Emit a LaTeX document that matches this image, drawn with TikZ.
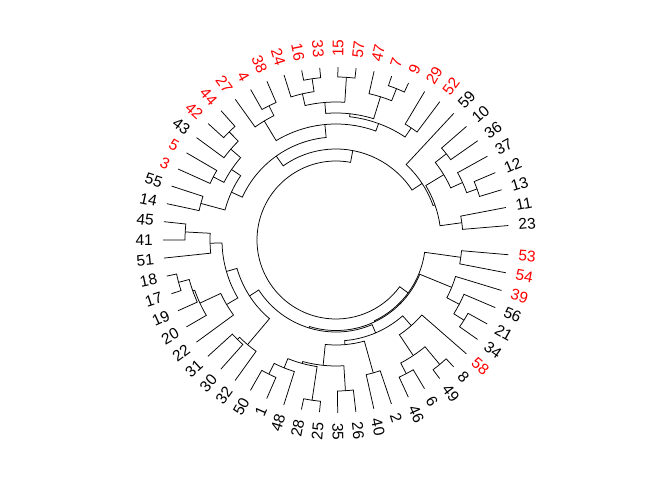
\documentclass[tikz,border=0pt]{standalone}
\usepackage{fontspec}
\setmainfont{Liberation Sans}
\tikzset{
    branch/.style={line width=0.75pt, black},
    lbl/.style={font=\fontsize{15.5}{18}\selectfont, inner sep=2pt},
}
\newcommand\tipr{173pt}
\newcommand\labr{181pt}
% leaf: name, position round the circle, colour, text
\newcommand\leaf[4]{%
  \pgfmathsetmacro\lfang{4.8+6.04*#2}%
  \expandafter\xdef\csname ang@#1\endcsname{\lfang}%
  \coordinate (#1) at (\lfang:\tipr);
  \pgfmathtruncatemacro\lfside{(\lfang>90 && \lfang<270) ? 1 : 0}%
  \ifnum\lfside=1
    \pgfmathsetmacro\lfrot{\lfang-180}%
    \node[lbl, text=#3, anchor=east, rotate=\lfrot] (lab#1) at (\lfang:\labr) {#4};
  \else
    \node[lbl, text=#3, anchor=west, rotate=\lfang] (lab#1) at (\lfang:\labr) {#4};
  \fi
}
% merge: name, first child, second child, radius of the join
\newcommand\merge[4]{%
  \edef\angA{\csname ang@#2\endcsname}%
  \edef\angB{\csname ang@#3\endcsname}%
  \pgfmathsetmacro\angM{(\angA+\angB)/2}%
  \expandafter\xdef\csname ang@#1\endcsname{\angM}%
  \coordinate (#1) at (\angM:#4pt);
  \draw[branch] (#2) -- (\angA:#4pt) arc[start angle=\angA, end angle=\angB, radius=#4pt] -- (#3);
}

\begin{document}
\begin{tikzpicture}
    \useasboundingbox (-336pt,-240pt) rectangle (336pt,240pt);

    \leaf{t23}{0}{black}{23}
    \leaf{t11}{1}{black}{11}
    \leaf{t13}{2}{black}{13}
    \leaf{t12}{3}{black}{12}
    \leaf{t37}{4}{black}{37}
    \leaf{t36}{5}{black}{36}
    \leaf{t10}{6}{black}{10}
    \leaf{t59}{7}{black}{59}
    \leaf{t52}{8}{red}{52}
    \leaf{t29}{9}{red}{29}
    \leaf{t9}{10}{red}{9}
    \leaf{t7}{11}{red}{7}
    \leaf{t47}{12}{red}{47}
    \leaf{t57}{13}{red}{57}
    \leaf{t15}{14}{red}{15}
    \leaf{t33}{15}{red}{33}
    \leaf{t16}{16}{red}{16}
    \leaf{t24}{17}{red}{24}
    \leaf{t38}{18}{red}{38}
    \leaf{t4}{19}{red}{4}
    \leaf{t27}{20}{red}{27}
    \leaf{t44}{21}{red}{44}
    \leaf{t42}{22}{red}{42}
    \leaf{t43}{23}{black}{43}
    \leaf{t5}{24}{red}{5}
    \leaf{t3}{25}{red}{3}
    \leaf{t55}{26}{black}{55}
    \leaf{t14}{27}{black}{14}
    \leaf{t45}{28}{black}{45}
    \leaf{t41}{29}{black}{41}
    \leaf{t51}{30}{black}{51}
    \leaf{t18}{31}{black}{18}
    \leaf{t17}{32}{black}{17}
    \leaf{t19}{33}{black}{19}
    \leaf{t20}{34}{black}{20}
    \leaf{t22}{35}{black}{22}
    \leaf{t31}{36}{black}{31}
    \leaf{t30}{37}{black}{30}
    \leaf{t32}{38}{black}{32}
    \leaf{t50}{39}{black}{50}
    \leaf{t1}{40}{black}{1}
    \leaf{t48}{41}{black}{48}
    \leaf{t28}{42}{black}{28}
    \leaf{t25}{43}{black}{25}
    \leaf{t35}{44}{black}{35}
    \leaf{t26}{45}{black}{26}
    \leaf{t40}{46}{black}{40}
    \leaf{t2}{47}{black}{2}
    \leaf{t46}{48}{black}{46}
    \leaf{t6}{49}{black}{6}
    \leaf{t49}{50}{black}{49}
    \leaf{t8}{51}{black}{8}
    \leaf{t58}{52}{red}{58}
    \leaf{t34}{53}{black}{34}
    \leaf{t21}{54}{black}{21}
    \leaf{t56}{55}{black}{56}
    \leaf{t39}{56}{red}{39}
    \leaf{t54}{57}{red}{54}
    \leaf{t53}{58}{red}{53}

    % right, upper
    \merge{a1}{t23}{t11}{127}
    \merge{a2}{t13}{t12}{150}
    \merge{a3}{a2}{t37}{139}
    \merge{a4}{t36}{t10}{140}
    \merge{a5}{a3}{a4}{126}
    \merge{a6}{a1}{a5}{105}
    \merge{a7}{a6}{t59}{103}
    % top
    \merge{b1}{t52}{t29}{135}
    \merge{b2}{t9}{t7}{163}
    \merge{b3}{b2}{t47}{150}
    \merge{b4}{t57}{t15}{163}
    \merge{b5}{t33}{t16}{163}
    \merge{b6}{b5}{t24}{150}
    \merge{b7}{b4}{b6}{138}
    \merge{b8}{b3}{b7}{127}
    \merge{b9}{b1}{b8}{124}
    \merge{b10}{t38}{t4}{150}
    \merge{b11}{b10}{t27}{139}
    \merge{b12}{b9}{b11}{116}
    % upper left
    \merge{d1}{t44}{t42}{152}
    \merge{d2}{d1}{t43}{139}
    \merge{d3}{t5}{t3}{138}
    \merge{d4}{d2}{d3}{126}
    \merge{d5}{t55}{t14}{140}
    \merge{d6}{d4}{d5}{115}
    \merge{v}{b12}{d6}{103}
    \merge{zp}{a7}{v}{91}
    % left
    \merge{l1}{t45}{t41}{151}
    \merge{l2}{l1}{t51}{126}
    \merge{o1}{t18}{t17}{163}
    \merge{o2}{o1}{t19}{152}
    \merge{o3}{o2}{t20}{150}
    \merge{o4}{o3}{t22}{127}
    \merge{o5}{l2}{o4}{114}
    \merge{j1}{t31}{t30}{140}
    \merge{j2}{j1}{t32}{137}
    \merge{n1}{o5}{j2}{103}
    % bottom
    \merge{k1}{t50}{t1}{150}
    \merge{k2}{k1}{t48}{138}
    \merge{k3}{t28}{t25}{162}
    \merge{k6}{k2}{k3}{128}
    \merge{k4}{t35}{t26}{151}
    \merge{k7}{k6}{k4}{126}
    \merge{m1}{t40}{t2}{138}
    \merge{h1}{k7}{m1}{105}
    % lower right
    \merge{g5}{t49}{t8}{162}
    \merge{g6}{t46}{t6}{151}
    \merge{g7}{g6}{g5}{139}
    \merge{g8}{g7}{t58}{114}
    \merge{h2}{h1}{g8}{101}
    \merge{n2}{n1}{h2}{92}
    \merge{g2}{t34}{t21}{151}
    \merge{g3}{g2}{t56}{139}
    \merge{g4}{g3}{t39}{125}
    \merge{g1}{t54}{t53}{126}
    \merge{r2}{n2}{g4}{90.5}
    \merge{q}{r2}{g1}{89.5}
    \merge{root}{zp}{q}{79}

\end{tikzpicture}
\end{document}
